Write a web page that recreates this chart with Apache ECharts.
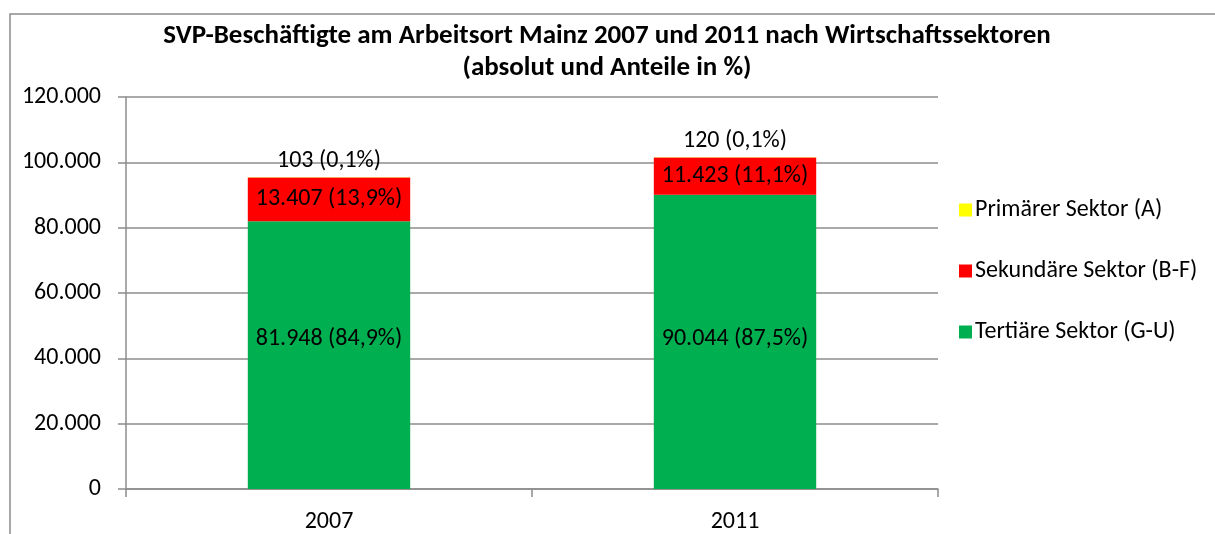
<!DOCTYPE html>
<html>
<head>
<meta charset="utf-8">
<script src="https://cdn.jsdelivr.net/npm/echarts@6/dist/echarts.min.js"></script>
<style>
  html, body { margin: 0; padding: 0; background: #fff; }
  #chart { width: 1215px; height: 534px; }
</style>
</head>
<body>
<div id="chart"></div>
<script>
// Jahre und Werte
var years = ["2007", "2011"];
var tertiaer = [81948, 90044];
var sekundaer = [13407, 11423];
var primaer = [103, 120];
// Anteile in %
var tertiaerPct = [84.9, 87.5];
var sekundaerPct = [13.9, 11.1];
var primaerPct = [0.1, 0.1];

var FONT = "Carlito, Lato, 'Open Sans', sans-serif";
var FS = 24;

function fmtNum(v) {
  return String(v).replace(/\B(?=(\d{3})+(?!\d))/g, ".");
}
function fmtPct(p) {
  return p.toFixed(1).replace(".", ",") + "%";
}
function labelFn(pcts) {
  return function (p) {
    return fmtNum(p.value) + " (" + fmtPct(pcts[p.dataIndex]) + ")";
  };
}

var chart = echarts.init(document.getElementById("chart"));

var option = {
  animation: false,
  textStyle: { fontFamily: FONT },
  title: {
    text: "SVP-Beschäftigte am Arbeitsort Mainz 2007 und 2011 nach Wirtschaftssektoren\n(absolut und Anteile in %)",
    left: 602,
    textAlign: "center",
    top: 15,
    textStyle: {
      fontFamily: FONT,
      fontSize: 27,
      fontWeight: "bold",
      color: "#000",
      lineHeight: 32
    }
  },
  graphic: [{
    type: "rect",
    shape: { x: 10, y: 14, width: 1230, height: 560 },
    style: { fill: "none", stroke: "#8c8c8c", lineWidth: 1.5 },
    silent: true
  }],
  legend: {
    orient: "vertical",
    left: 954,
    top: 193,
    itemWidth: 13,
    itemHeight: 13,
    itemGap: 37,
    icon: "rect",
    textStyle: { fontFamily: FONT, fontSize: FS, color: "#000", padding: [0, 0, 0, -2] },
    data: ["Primärer Sektor (A)", "Sekundäre Sektor (B-F)", "Tertiäre Sektor (G-U)"]
  },
  grid: { left: 126, top: 97, width: 812, height: 393 },
  xAxis: {
    type: "category",
    data: years,
    axisLine: { lineStyle: { color: "#8c8c8c", width: 1.5 } },
    axisTick: { show: true, length: 8, lineStyle: { color: "#8c8c8c", width: 1.5 } },
    axisLabel: { fontFamily: FONT, fontSize: FS, color: "#000", margin: 21 }
  },
  yAxis: {
    type: "value",
    min: 0,
    max: 120000,
    interval: 20000,
    axisLine: { show: true, lineStyle: { color: "#8c8c8c", width: 1.5 } },
    axisTick: { show: true, length: 8, lineStyle: { color: "#8c8c8c", width: 1.5 } },
    splitLine: { lineStyle: { color: "#8c8c8c", width: 1.5 } },
    axisLabel: {
      fontFamily: FONT, fontSize: FS, color: "#000", margin: 25,
      formatter: function (v) { return fmtNum(v); }
    }
  },
  series: [
    {
      name: "Tertiäre Sektor (G-U)",
      type: "bar",
      stack: "s",
      barWidth: "40%",
      itemStyle: { color: "#00B050" },
      label: {
        show: true, position: "inside", color: "#000", fontFamily: FONT, fontSize: FS,
        formatter: labelFn(tertiaerPct)
      },
      data: [
        { value: tertiaer[0], label: { offset: [0, -16] } },
        { value: tertiaer[1], label: { offset: [0, -3] } }
      ]
    },
    {
      name: "Sekundäre Sektor (B-F)",
      type: "bar",
      stack: "s",
      itemStyle: { color: "#FF0000" },
      label: {
        show: true, position: "inside", color: "#000", fontFamily: FONT, fontSize: FS,
        formatter: labelFn(sekundaerPct)
      },
      data: sekundaer
    },
    {
      name: "Primärer Sektor (A)",
      type: "bar",
      stack: "s",
      itemStyle: { color: "#FFFF00" },
      label: {
        show: true, position: "top", distance: 4, color: "#000", fontFamily: FONT, fontSize: FS,
        formatter: labelFn(primaerPct)
      },
      data: primaer
    }
  ]
};

chart.setOption(option);
</script>
</body>
</html>
